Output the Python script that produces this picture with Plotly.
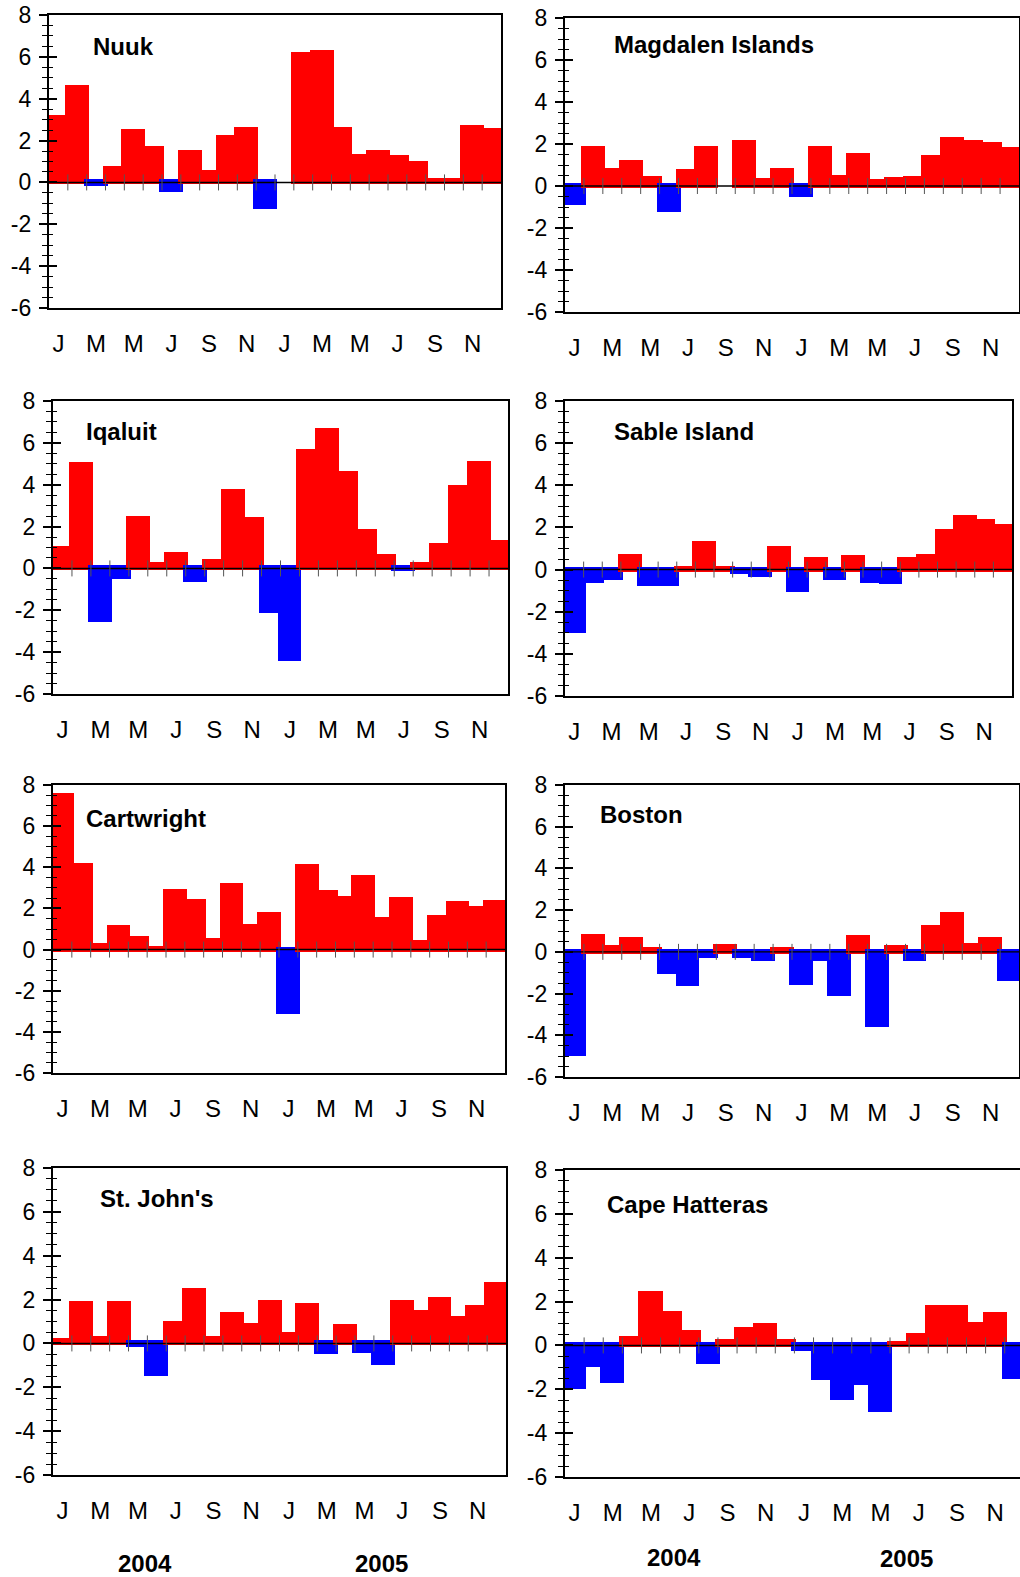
import plotly.graph_objects as go

# Monthly anomalies, Jan 2004 - Dec 2005 (None = no data)
month_letters = ["J", "F", "M", "A", "M", "J", "J", "A", "S", "O", "N", "D"]
year_labels = ["2004", "2005"]
stations = ["Nuuk", "Magdalen Islands", "Iqaluit", "Sable Island",
            "Cartwright", "Boston", "St. John's", "Cape Hatteras"]

nuuk = [3.1, 4.5, -0.07, 0.65, 2.4, 1.6, -0.35, 1.4, 0.45, 2.1, 2.5, -1.15,
        None, 6.1, 6.2, 2.5, 1.2, 1.4, 1.15, 0.9, 0.05, 0.05, 2.6, 2.45]
magdalen = [-0.8, 1.75, 0.7, 1.1, 0.35, -1.15, 0.65, 1.75, None, 2.05, 0.25, 0.7,
            -0.45, 1.75, 0.4, 1.45, 0.2, 0.3, 0.35, 1.35, 2.2, 2.05, 1.95, 1.7]
iqaluit = [0.95, 4.95, -2.45, -0.4, 2.35, 0.15, 0.65, -0.55, 0.3, 3.65, 2.3, -2.05,
           -4.35, 5.55, 6.55, 4.5, 1.75, 0.55, -0.05, 0.15, 1.05, 3.85, 5.0, 1.2]
sable = [-2.9, -0.55, -0.4, 0.6, -0.7, -0.7, 0.02, 1.2, 0.02, -0.1, -0.25, 1.0,
         -0.95, 0.45, -0.4, 0.55, -0.55, -0.6, 0.45, 0.6, 1.8, 2.45, 2.25, 2.0]
cartwright = [7.45, 4.05, 0.15, 1.05, 0.5, 0.05, 2.8, 2.3, 0.4, 3.1, 1.1, 1.7,
              -3.05, 4.0, 2.75, 2.45, 3.5, 1.45, 2.4, 0.3, 1.55, 2.2, 1.95, 2.25]
boston = [-4.9, 0.7, 0.2, 0.55, 0.1, -0.95, -1.55, -0.2, 0.25, -0.22, -0.35, 0.1,
          -1.5, -0.32, -2.0, 0.65, -3.5, 0.2, -0.35, 1.15, 1.75, 0.3, 0.55, -1.3]
stjohns = [0.1, 1.8, 0.2, 1.8, -0.07, -1.4, 0.9, 2.4, 0.2, 1.3, 0.8, 1.85,
           0.4, 1.7, -0.4, 0.75, -0.35, -0.9, 1.85, 1.4, 2.0, 1.1, 1.6, 2.65]
hatteras = [-1.9, -0.9, -1.6, 0.3, 2.35, 1.45, 0.55, -0.75, 0.15, 0.7, 0.9, 0.15,
            -0.15, -1.5, -2.4, -1.7, -2.95, 0.05, 0.45, 1.7, 1.7, 0.95, 1.4, -1.45]

series = [nuuk, magdalen, iqaluit, sable, cartwright, boston, stjohns, hatteras]

y_ticks = [-6, -4, -2, 0, 2, 4, 6, 8]
y_tick_text = ["-6", "-4", "-2", "0", "2", "4", "6", "8"]

W, H = 1020, 1577
RED, BLUE = "#FF0000", "#0000FF"
FONT = "Liberation Sans, Arial, sans-serif"

# panel frames in pixels: left, right, top, bottom
frames = [
    (49, 501, 15, 308), (565, 1019, 18, 312),
    (53, 508, 401, 694), (565, 1012, 401, 696),
    (53, 505, 785, 1073), (565, 1019, 785, 1077),
    (53, 506, 1168, 1475), (565, 1020, 1170, 1477),
]
# title anchor (left x, middle y) in pixels
title_pos = [(91, 47), (612, 44), (84, 431), (612, 431),
             (84, 818), (598, 814), (98, 1198), (605, 1204)]

n = len(nuuk)
months = [month_letters[i % 12] for i in range(n)]
x_idx = list(range(n))

fig = go.Figure()
layout = dict(template="none", width=W, height=H,
              margin=dict(l=0, r=0, t=0, b=0, pad=0, autoexpand=False),
              paper_bgcolor="white", plot_bgcolor="white",
              showlegend=False, bargap=0, annotations=[])

for k, (name, vals, fr) in enumerate(zip(stations, series, frames), start=1):
    x0, x1, yt, yb = fr
    xa, ya, yo = f"x{k}", f"y{k}", f"y{k + 8}"
    x_end = 23.5 if k != 8 else 23.3

    colors = [RED if (v is not None and v >= 0) else BLUE for v in vals]
    fig.add_trace(go.Bar(
        x=x_idx, y=vals, width=1.0, xaxis=xa, yaxis=ya,
        marker=dict(color=colors, line=dict(color=colors, width=5)),
        hoverinfo="skip"))

    # zero line with crossing month ticks, drawn over the bars
    px_per_unit = (yb - yt) / 14.0
    half = 8.0 / px_per_unit
    zx, zy = [-0.5, x_end, None], [0, 0, None]
    fig.add_trace(go.Scatter(x=zx, y=zy, mode="lines", xaxis=xa, yaxis=yo,
                             line=dict(color="black", width=1.4),
                             hoverinfo="skip"))
    tx, ty = [], []
    for b in range(1, n):
        tx += [b - 0.5, b - 0.5, None]
        ty += [-half, half, None]
    fig.add_trace(go.Scatter(x=tx, y=ty, mode="lines", xaxis=xa, yaxis=yo,
                             line=dict(color="#555555", width=1),
                             hoverinfo="skip"))

    xdom = [x0 / W, x1 / W]
    ydom = [1 - yb / H, 1 - yt / H]
    sfx = "" if k == 1 else str(k)
    layout["xaxis" + sfx] = dict(
        domain=xdom, anchor=ya, range=[-0.5, x_end], automargin=False,
        tickvals=x_idx[::2], ticktext=months[::2], ticks="",
        tickfont=dict(family=FONT, size=24, color="black"),
        ticklabelstandoff=13,
        showline=True, linecolor="black", linewidth=1.6, mirror=True,
        showgrid=False, zeroline=False, fixedrange=True)
    layout["yaxis" + sfx] = dict(
        domain=ydom, anchor=xa, range=[-6, 8], automargin=False,
        tickvals=y_ticks, ticktext=y_tick_text,
        ticks="outside", ticklen=8, tickwidth=1.6, tickcolor="black",
        minor=dict(dtick=0.5, tick0=0, ticks="outside", ticklen=5,
                   tickwidth=1.2, tickcolor="black"),
        tickfont=dict(family=FONT, size=23, color="black"),
        ticklabelstandoff=3,
        showline=True, linecolor="black", linewidth=2.2,
        mirror=(k != 8), showgrid=False, zeroline=False, fixedrange=True)
    layout[f"yaxis{k + 8}"] = dict(
        overlaying=ya, anchor=xa, side="left", range=[-6, 8], automargin=False,
        tickvals=y_ticks, showticklabels=False,
        ticks="inside", ticklen=8, tickwidth=1.6, tickcolor="black",
        minor=dict(dtick=0.5, tick0=0, ticks="inside", ticklen=4,
                   tickwidth=1.2, tickcolor="black"),
        showline=False, showgrid=False, zeroline=False, fixedrange=True)

    tx_, ty_ = title_pos[k - 1]
    layout["annotations"].append(dict(
        text=f"<b>{name}</b>", xref="paper", yref="paper",
        x=tx_ / W, y=1 - ty_ / H, xanchor="left", yanchor="middle",
        showarrow=False, font=dict(family=FONT, size=24, color="black")))

# year captions under the bottom row
year_pos = [(145, 1563), (381, 1563), (674, 1557), (906, 1558)]
for i, (px, py) in enumerate(year_pos):
    layout["annotations"].append(dict(
        text=f"<b>{year_labels[i % 2]}</b>", xref="paper", yref="paper",
        x=px / W, y=1 - py / H, xanchor="center", yanchor="middle",
        showarrow=False, font=dict(family=FONT, size=24, color="black")))

fig.update_layout(**layout)
fig.write_html("out.html")
